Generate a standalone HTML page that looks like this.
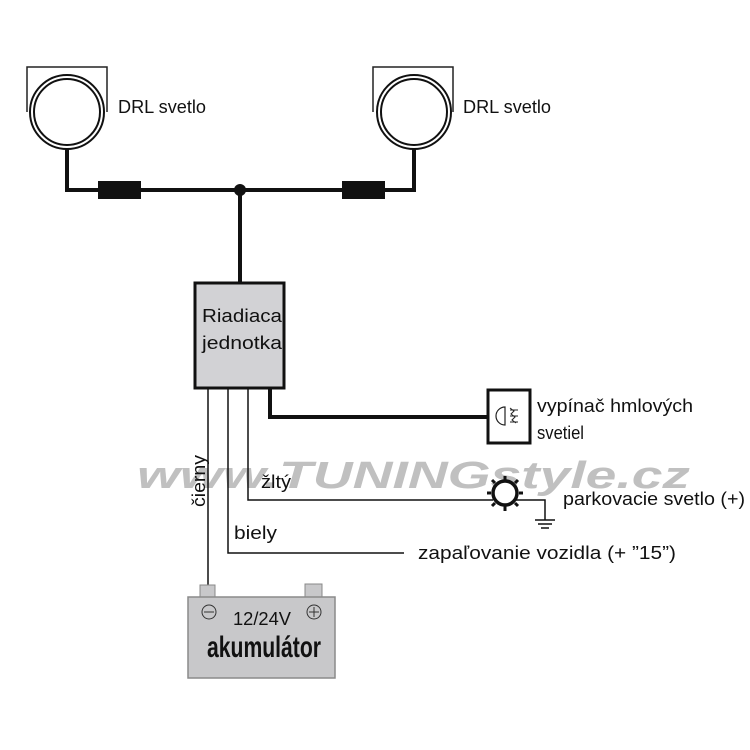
<!DOCTYPE html>
<html><head><meta charset="utf-8"><style>
body{margin:0;background:#fff}
svg{display:block}
text{font-family:"Liberation Sans","DejaVu Sans",sans-serif;fill:#111}
</style></head><body>
<svg width="750" height="750" viewBox="0 0 750 750" xmlns="http://www.w3.org/2000/svg">
<rect width="750" height="750" fill="#fff"/>
<!-- left lamp -->
<polyline points="27,112 27,67 107,67 107,112" fill="none" stroke="#222" stroke-width="1.5"/>
<circle cx="67" cy="112" r="37" fill="#fff" stroke="#111" stroke-width="2"/>
<circle cx="67" cy="112" r="33" fill="#fff" stroke="#111" stroke-width="2"/>
<text x="118" y="113" font-size="18" textLength="88" lengthAdjust="spacingAndGlyphs">DRL svetlo</text>
<!-- right lamp -->
<polyline points="373,112 373,67 453,67 453,112" fill="none" stroke="#222" stroke-width="1.5"/>
<circle cx="414" cy="112" r="37" fill="#fff" stroke="#111" stroke-width="2"/>
<circle cx="414" cy="112" r="33" fill="#fff" stroke="#111" stroke-width="2"/>
<text x="463" y="113" font-size="18" textLength="88" lengthAdjust="spacingAndGlyphs">DRL svetlo</text>
<!-- wires -->
<polyline points="67,149 67,190 414,190 414,149" fill="none" stroke="#111" stroke-width="4"/>
<rect x="98" y="181" width="43" height="18" fill="#111"/>
<rect x="342" y="181" width="43" height="18" fill="#111"/>
<circle cx="240" cy="190" r="6" fill="#111"/>
<line x1="240" y1="190" x2="240" y2="283" stroke="#111" stroke-width="4"/>
<!-- control unit -->
<rect x="195" y="283" width="89" height="105" fill="#d2d2d5" stroke="#111" stroke-width="3"/>
<text x="202" y="322" font-size="18" textLength="80" lengthAdjust="spacingAndGlyphs">Riadiaca</text>
<text x="202" y="349" font-size="18" textLength="80" lengthAdjust="spacingAndGlyphs">jednotka</text>
<!-- fog switch -->
<polyline points="270,389 270,417 488,417" fill="none" stroke="#111" stroke-width="4"/>
<rect x="488" y="390" width="42" height="53" fill="#fff" stroke="#111" stroke-width="3"/>
<path d="M505,407 A9,9 0 0 0 505,425 Z" fill="none" stroke="#222" stroke-width="1.2"/>
<path d="M510,408 l4,3 -3,3 4,3 -3,3 4,3 M510,410 h8 M510,416 h8 M510,422 h8" fill="none" stroke="#222" stroke-width="1"/>
<text x="537" y="412" font-size="18" textLength="156" lengthAdjust="spacingAndGlyphs">vypínač hmlových</text>
<text x="537" y="439" font-size="18" textLength="47" lengthAdjust="spacingAndGlyphs">svetiel</text>
<!-- watermark -->
<text x="137" y="488" font-size="38" font-weight="bold" font-style="italic" style="fill:#c0c0c0" textLength="553" lengthAdjust="spacingAndGlyphs">www.TUNINGstyle.cz</text>
<!-- thin wires -->
<g stroke="#111" stroke-width="1.5" fill="none">
<polyline points="208,389 208,588"/>
<polyline points="228,389 228,553 404,553"/>
<polyline points="248,389 248,500 493,500"/>
<polyline points="516,500 545,500 545,520"/>
<line x1="535" y1="520" x2="555" y2="520"/>
<line x1="538" y1="524" x2="552" y2="524"/>
<line x1="541" y1="528" x2="549" y2="528"/>
</g>
<!-- parking lamp -->
<circle cx="505" cy="493" r="12" fill="#fff" stroke="#111" stroke-width="3.5"/>
<g stroke="#111" stroke-width="3">
<line x1="505" y1="476" x2="505" y2="480"/><line x1="505" y1="506" x2="505" y2="511"/>
<line x1="487" y1="493" x2="491" y2="493"/><line x1="519" y1="493" x2="523" y2="493"/>
<line x1="492" y1="480" x2="495" y2="483"/><line x1="518" y1="480" x2="515" y2="483"/>
<line x1="492" y1="506" x2="495" y2="503"/><line x1="518" y1="506" x2="515" y2="503"/>
</g>
<text x="563" y="505" font-size="18" textLength="182" lengthAdjust="spacingAndGlyphs">parkovacie svetlo (+)</text>
<text x="418" y="559" font-size="18" textLength="258" lengthAdjust="spacingAndGlyphs">zapaľovanie vozidla (+ ”15”)</text>
<text x="234" y="539" font-size="18" textLength="43" lengthAdjust="spacingAndGlyphs">biely</text>
<text x="261" y="488" font-size="18" textLength="30" lengthAdjust="spacingAndGlyphs">žltý</text>
<text transform="translate(205,507) rotate(-90)" font-size="18" textLength="52" lengthAdjust="spacingAndGlyphs">čierny</text>
<!-- battery -->
<rect x="200" y="585" width="15" height="12" fill="#c8c8ca" stroke="#888" stroke-width="1"/>
<rect x="305" y="584" width="17" height="13" fill="#c8c8ca" stroke="#888" stroke-width="1"/>
<rect x="188" y="597" width="147" height="81" fill="#c8c8ca" stroke="#8a8a8a" stroke-width="1.5"/>
<circle cx="209" cy="612" r="7" fill="none" stroke="#333" stroke-width="1"/>
<line x1="204" y1="612" x2="214" y2="612" stroke="#333"/>
<circle cx="314" cy="612" r="7" fill="none" stroke="#333" stroke-width="1"/>
<line x1="309" y1="612" x2="319" y2="612" stroke="#333"/><line x1="314" y1="607" x2="314" y2="617" stroke="#333"/>
<text x="233" y="625" font-size="18" textLength="58" lengthAdjust="spacingAndGlyphs">12/24V</text>
<text x="207" y="657" font-size="30" font-weight="bold" textLength="114" lengthAdjust="spacingAndGlyphs">akumulátor</text>
</svg>
</body></html>
